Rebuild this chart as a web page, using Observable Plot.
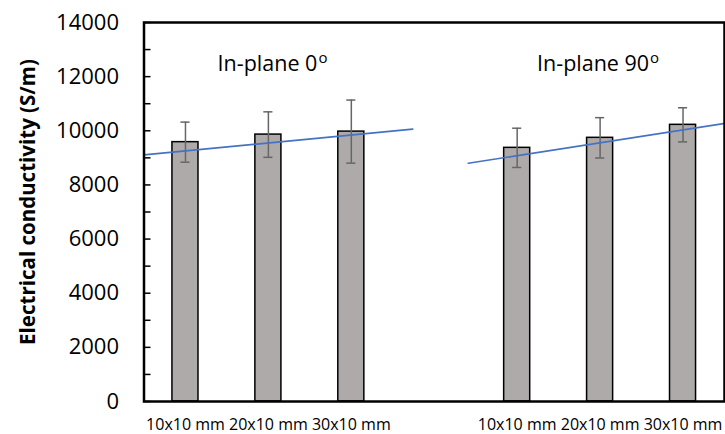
<!DOCTYPE html>
<html>
<head>
<meta charset="utf-8">
<script src="https://cdn.jsdelivr.net/npm/d3@7"></script>
<script src="https://cdn.jsdelivr.net/npm/@observablehq/plot@0.6"></script>
<style>
  html, body { margin: 0; padding: 0; background: #fff; }
  #chart svg { display: block; }
</style>
</head>
<body>
<div id="chart"></div>
<script>
// ---- data ----
const groupNames = ["In-plane 0", "In-plane 90"];
const sizes = ["10x10 mm", "20x10 mm", "30x10 mm"];
const conductivity = [[9580, 9860, 9970], [9370, 9740, 10220]];
const errorSD = [[740, 840, 1165], [725, 745, 630]];
const yTicks = [0, 2000, 4000, 6000, 8000, 10000, 12000, 14000];
// trend lines (position on category axis, conductivity)
const trendFrom = [[-0.5, 9110], [3.41, 8800]];
const trendTo = [[2.74, 10060], [6.52, 10280]];

// ---- build table ----
const rows = [];
groupNames.forEach((g, gi) => sizes.forEach((s, si) => rows.push({
  group: g, size: s, pos: gi * 4 + si,
  value: conductivity[gi][si], sd: errorSD[gi][si]
})));
const trendRows = [];
groupNames.forEach((g, gi) => {
  trendRows.push({group: g, pos: trendFrom[gi][0], value: trendFrom[gi][1]});
  trendRows.push({group: g, pos: trendTo[gi][0], value: trendTo[gi][1]});
});
const titleRows = groupNames.map((g, gi) => ({group: g, pos: gi * 4 + 1}));
const posLabel = new Map(rows.map(d => [d.pos, d.size]));

const half = 0.157, cap = 0.055;

const chart = Plot.plot({
  width: 725,
  height: 434,
  marginLeft: 143.5,
  marginRight: 1,
  marginTop: 22,
  marginBottom: 33,
  style: {fontFamily: "'Open Sans', sans-serif", color: "#000", background: "#fff"},
  x: {type: "linear", domain: [-0.5, 6.5]},
  y: {domain: [0, 14000]},
  marks: [
    Plot.rectY(rows, {x1: d => d.pos - half, x2: d => d.pos + half, y: "value",
      fill: "#AEAAAA", stroke: "#000", strokeWidth: 1.5}),
    Plot.ruleX(rows, {x: "pos", y1: d => d.value - d.sd, y2: d => d.value + d.sd,
      stroke: "#666", strokeWidth: 1.5}),
    Plot.ruleY(rows, {y: d => d.value + d.sd, x1: d => d.pos - cap, x2: d => d.pos + cap,
      stroke: "#666", strokeWidth: 1.5}),
    Plot.ruleY(rows, {y: d => d.value - d.sd, x1: d => d.pos - cap, x2: d => d.pos + cap,
      stroke: "#666", strokeWidth: 1.5}),
    Plot.line(trendRows, {x: "pos", y: "value", z: "group", stroke: "#4472C4", strokeWidth: 1.6}),
    Plot.axisY({ticks: d3.range(0, 14001, 1000), tickSize: -7, tickFormat: () => "", strokeWidth: 1.5, label: null}),
    Plot.axisY({ticks: yTicks, tickSize: 0, tickPadding: 25, fontSize: 22, tickFormat: d => String(d), label: null}),
    Plot.axisX({ticks: rows.map(d => d.pos), tickSize: 0, tickPadding: 17, fontSize: 16,
      tickFormat: d => posLabel.get(d), label: null}),
    Plot.text(titleRows, {x: "pos", frameAnchor: "top", dy: 33.5, dx: 49, text: "group",
      textAnchor: "end", fontSize: 21.5}),
    Plot.text(titleRows, {x: "pos", frameAnchor: "top", dy: 30, dx: 50, text: () => "o",
      textAnchor: "start", fontSize: 15}),
    Plot.text(["Electrical conductivity (S/m)"], {frameAnchor: "left", dx: -115.5, dy: -10,
      textAnchor: "middle", rotate: -90, text: d => d, fontSize: 20.5, fontWeight: "bold"}),
    Plot.frame({stroke: "#000", strokeWidth: 2.5})
  ]
});
document.getElementById("chart").append(chart);
</script>
</body>
</html>
